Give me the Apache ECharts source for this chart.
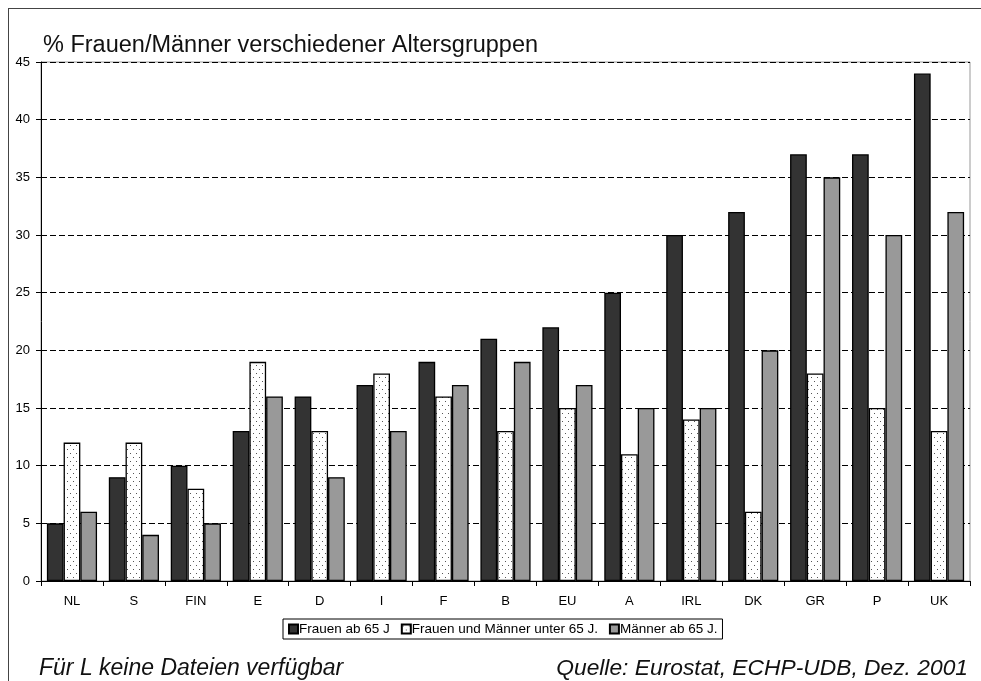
<!DOCTYPE html>
<html>
<head>
<meta charset="utf-8">
<script src="https://cdn.jsdelivr.net/npm/echarts@6/dist/echarts.min.js"></script>
<style>
html, body { margin: 0; padding: 0; background: #fff; }
#frame {
    position: absolute;
    left: 8px;
    top: 8px;
    width: 980px;
    height: 680px;
    border-left: 1px solid #444;
    border-top: 1px solid #444;
}
#chart { position: absolute; left: 0; top: 0; width: 981px; height: 681px; }
</style>
</head>
<body>
<div id="frame"></div>
<div id="chart"></div>
<script>
// Länder / Gruppen
const countries = ['NL', 'S', 'FIN', 'E', 'D', 'I', 'F', 'B', 'EU', 'A', 'IRL', 'DK', 'GR', 'P', 'UK']
const seriesNames = ['Frauen ab 65 J', 'Frauen und Männer unter 65 J.', 'Männer ab 65 J.']
const frauen65 = [5, 9, 10, 13, 16, 17, 19, 21, 22, 25, 30, 32, 37, 37, 44]
const unter65 = [12, 12, 8, 19, 13, 18, 16, 13, 15, 11, 14, 6, 18, 15, 13]
const maenner65 = [6, 4, 5, 16, 9, 13, 17, 19, 17, 15, 15, 20, 35, 30, 32]

// gepunktetes Muster für die mittlere Reihe
function dotPattern() {
    const c = document.createElement('canvas')
    c.width = 6
    c.height = 8
    const ctx = c.getContext('2d')
    ctx.fillStyle = '#fff'
    ctx.fillRect(0, 0, 6, 8)
    ctx.fillStyle = '#555'
    ctx.fillRect(1, 1, 1, 1)
    ctx.fillRect(4, 5, 1, 1)
    return c
}

const font = 'Liberation Sans, Arial, sans-serif'
const chart = echarts.init(document.getElementById('chart'))

function bar(name, data, color) {
    return {
        name: name,
        type: 'bar',
        data: data,
        barGap: 0,
        barCategoryGap: '19%',
        itemStyle: { color: color, borderColor: '#000', borderWidth: 1.3 }
    }
}

chart.setOption({
    animation: false,
    title: [
        {
            text: '% Frauen/Männer verschiedener Altersgruppen',
            left: 38, top: 29,
            textStyle: { fontFamily: font, fontSize: 23.5, fontWeight: 'normal', color: '#111' }
        },
        {
            text: 'Für L keine Dateien verfügbar',
            left: 34, top: 652,
            textStyle: { fontFamily: font, fontSize: 23, fontStyle: 'italic', fontWeight: 'normal', color: '#111' }
        },
        {
            text: 'Quelle: Eurostat, ECHP-UDB, Dez. 2001',
            right: 8, top: 652,
            textStyle: { fontFamily: font, fontSize: 22.8, fontStyle: 'italic', fontWeight: 'normal', color: '#111' }
        }
    ],
    legend: {
        data: seriesNames,
        top: 619,
        left: 283,
        icon: 'rect',
        itemWidth: 9,
        itemHeight: 9,
        itemGap: 11,
        padding: [3, 5],
        borderColor: '#000',
        borderWidth: 1,
        textStyle: { fontFamily: font, fontSize: 13.5, color: '#000', padding: [0, 0, 0, -4] }
    },
    grid: { left: 41, right: 11, top: 62, bottom: 100, show: true, borderColor: '#999', borderWidth: 1 },
    xAxis: {
        type: 'category',
        data: countries,
        axisLine: { lineStyle: { color: '#000', width: 1 } },
        axisTick: { show: true, length: 5, lineStyle: { color: '#000' } },
        axisLabel: { fontFamily: font, fontSize: 13, color: '#000', margin: 14 }
    },
    yAxis: {
        type: 'value',
        min: 0, max: 45, interval: 5,
        axisLine: { show: true, lineStyle: { color: '#000', width: 1 } },
        axisTick: { show: true, length: 5, lineStyle: { color: '#000' } },
        axisLabel: { fontFamily: font, fontSize: 13, color: '#000', margin: 11 },
        splitLine: { show: true, lineStyle: { color: '#000', type: [6, 3], width: 1 } }
    },
    series: [
        bar(seriesNames[0], frauen65, '#333333'),
        bar(seriesNames[1], unter65, { image: dotPattern(), repeat: 'repeat' }),
        bar(seriesNames[2], maenner65, '#999999')
    ]
})
</script>
</body>
</html>
